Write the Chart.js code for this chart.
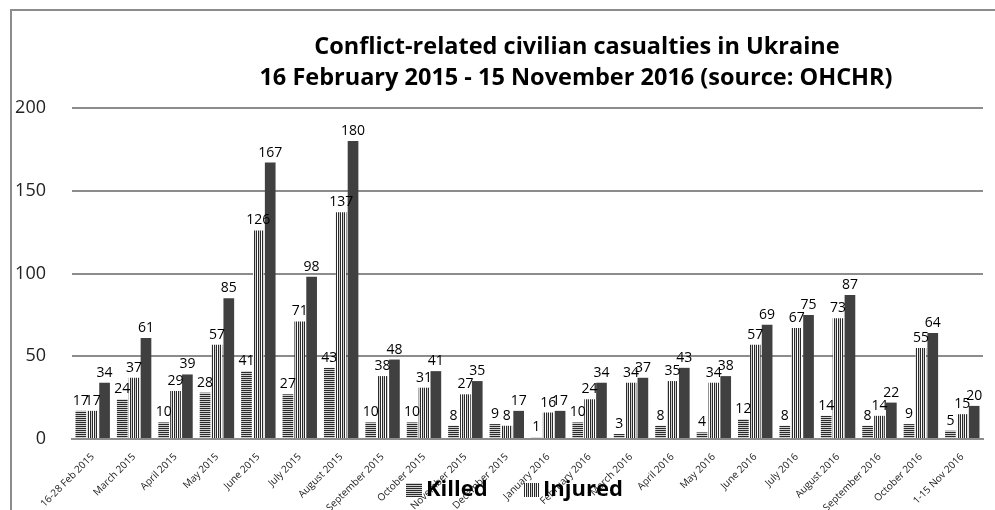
<!DOCTYPE html>
<html>
<head>
<meta charset="utf-8">
<script src="https://cdn.jsdelivr.net/npm/chart.js@4/dist/chart.umd.min.js"></script>
<style>
  body { margin: 0; background: #fff; }
</style>
</head>
<body>
<canvas id="casualties" width="995" height="510"></canvas>
<script>
// data
var months = ['16-28 Feb 2015', 'March 2015', 'April 2015', 'May 2015', 'June 2015', 'July 2015',
  'August 2015', 'September 2015', 'October 2015', 'November 2015', 'December 2015', 'January 2016',
  'February 2016', 'March 2016', 'April 2016', 'May 2016', 'June 2016', 'July 2016', 'August 2016',
  'September 2016', 'October 2016', '1-15 Nov 2016'];
var killed  = [17, 24, 10, 28, 41, 27, 43, 10, 10, 8, 9, 1, 10, 3, 8, 4, 12, 8, 14, 8, 9, 5];
var injured = [17, 37, 29, 57, 126, 71, 137, 38, 31, 27, 8, 16, 24, 34, 35, 34, 57, 67, 73, 14, 55, 15];
var total   = [34, 61, 39, 85, 167, 98, 180, 48, 41, 35, 17, 17, 34, 37, 43, 38, 69, 75, 87, 22, 64, 20];
var yMax = 200, yStep = 50;
var titleLines = ['Conflict-related civilian casualties in Ukraine',
  '16 February 2015 - 15 November 2016 (source: OHCHR)'];

var FONT = '"Open Sans", sans-serif';

// stripe fills like the old excel pattern fills
function makePattern(horizontal) {
  var c = document.createElement('canvas');
  c.width = 4; c.height = 4;
  var g = c.getContext('2d');
  g.fillStyle = '#d0d0d0';
  g.fillRect(0, 0, 4, 4);
  g.fillStyle = '#2a2a2a';
  if (horizontal) {
    g.fillRect(0, 0, 4, 1);
    g.fillRect(0, 2, 4, 1);
  } else {
    g.fillRect(0, 0, 1, 4);
    g.fillRect(2, 0, 1, 4);
    g.fillStyle = '#fff';
    g.fillRect(1, 0, 1, 4);
  }
  return g.createPattern(c, 'repeat');
}
var killedFill = makePattern(true);
var injuredFill = makePattern(false);

var decorPlugin = {
  id: 'decor',
  beforeDraw: function(chart) {
    var ctx = chart.ctx;
    ctx.save();
    ctx.fillStyle = '#fff';
    ctx.fillRect(0, 0, chart.width, chart.height);
    // chart frame (right / bottom sides are outside the crop)
    ctx.strokeStyle = '#8c8c8c';
    ctx.lineWidth = 2;
    ctx.beginPath();
    ctx.moveTo(11, 510);
    ctx.lineTo(11, 10);
    ctx.lineTo(995, 10);
    ctx.stroke();
    // title
    ctx.fillStyle = '#000';
    ctx.font = 'bold 23.5px ' + FONT;
    ctx.textAlign = 'center';
    ctx.textBaseline = 'middle';
    ctx.fillText(titleLines[0], 577, 47);
    ctx.fillText(titleLines[1], 576, 78);
    ctx.restore();
  },
  afterDatasetsDraw: function(chart) {
    var ctx = chart.ctx;
    ctx.save();
    ctx.fillStyle = '#000';
    ctx.font = '14px ' + FONT;
    ctx.textAlign = 'center';
    ctx.textBaseline = 'bottom';
    chart.data.datasets.forEach(function(ds, i) {
      chart.getDatasetMeta(i).data.forEach(function(bar, j) {
        ctx.fillText(ds.data[j], bar.x, bar.y - 3);
      });
    });
    ctx.restore();
  },
  afterDraw: function(chart) {
    // legend sits on top of the axis labels like in the original
    var ctx = chart.ctx;
    ctx.save();
    ctx.font = 'bold 22px ' + FONT;
    ctx.textBaseline = 'middle';
    ctx.fillStyle = killedFill;
    ctx.fillRect(406, 483, 16, 14);
    ctx.fillStyle = injuredFill;
    ctx.fillRect(524, 483, 15, 14);
    ctx.fillStyle = '#000';
    ctx.fillText('Killed', 426, 490);
    ctx.fillText('Injured', 543, 490);
    ctx.restore();
  }
};

new Chart(document.getElementById('casualties'), {
  type: 'bar',
  data: {
    labels: months,
    datasets: [
      { label: 'Killed', data: killed, backgroundColor: killedFill },
      { label: 'Injured', data: injured, backgroundColor: injuredFill },
      { label: 'Total', data: total, backgroundColor: '#404040' }
    ]
  },
  options: {
    responsive: false,
    animation: false,
    layout: { padding: { left: 10, right: 12, top: 108, bottom: 0 } },
    datasets: { bar: { categoryPercentage: 0.86, barPercentage: 0.9 } },
    plugins: {
      legend: { display: false },
      title: { display: false },
      tooltip: { enabled: false }
    },
    scales: {
      x: {
        grid: { display: false },
        border: { color: '#8c8c8c', width: 2 },
        ticks: {
          maxRotation: 45, minRotation: 45, autoSkip: false,
          color: '#222', font: { family: FONT, size: 10 }, padding: 4
        },
        afterFit: function(scale) { scale.height = 71; }
      },
      y: {
        min: 0, max: yMax,
        grid: { color: '#8c8c8c', lineWidth: 2, drawTicks: false },
        border: { display: false },
        ticks: {
          stepSize: yStep, color: '#222',
          font: { family: FONT, size: 18 }, padding: 26
        },
        afterFit: function(scale) { scale.width = 62; }
      }
    }
  },
  plugins: [decorPlugin]
});
</script>
</body>
</html>
